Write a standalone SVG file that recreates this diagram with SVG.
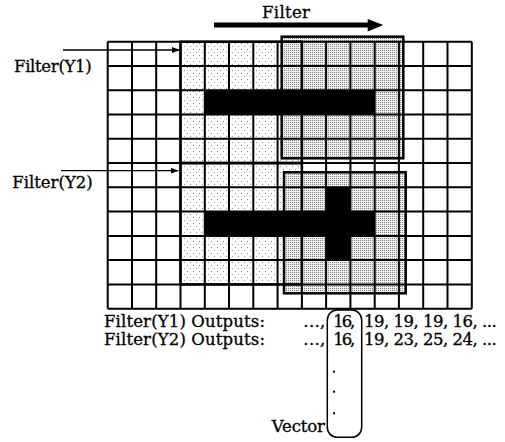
<svg xmlns="http://www.w3.org/2000/svg" width="505" height="442" viewBox="0 0 505 442">
<style>
text{font-family:"DejaVu Serif","Liberation Serif",serif;font-size:16.5px;fill:#000;stroke:#000;stroke-width:0.3}
.grid{stroke:#000;stroke-width:2;fill:none}
.box{stroke:#000;stroke-width:2.5;fill:none}
.thin{stroke:#000;stroke-width:1.3;fill:none}
</style>
<defs>
<pattern id="sparse" width="6" height="6" patternUnits="userSpaceOnUse"><rect width="6" height="6" fill="#fff"/><rect x="1" y="1" width="1" height="1" fill="#888"/><rect x="4" y="4" width="1" height="1" fill="#999"/></pattern>
<pattern id="dense" width="2" height="2" patternUnits="userSpaceOnUse"><rect width="2" height="2" fill="#f0f0f0"/><rect width="1" height="1" fill="#808080"/></pattern>
<marker id="ah" markerWidth="8" markerHeight="6" refX="8" refY="3" orient="auto" markerUnits="userSpaceOnUse"><path d="M0,0 L8,3 L0,6 Z" fill="#000"/></marker>
</defs>
<rect width="505" height="442" fill="#fff"/>
<g id="image-grid">
<rect x="107.7" y="41.7" width="364" height="267" fill="#fff"/>
<rect x="180.5" y="41.7" width="121.4" height="121.35" fill="url(#sparse)"/>
<rect x="180.5" y="163.05" width="121.4" height="121.35" fill="url(#sparse)"/>
</g>
<g id="filter-y1">
<rect x="281.7" y="36.7" width="121.6" height="121.6" fill="url(#dense)"/>
</g>
<g id="filter-y2">
<rect x="284" y="172.3" width="121.7" height="121" fill="url(#dense)"/>
</g>
<g id="shapes">
<rect x="204.8" y="90.2" width="169.9" height="24.3" fill="#000"/>
<rect x="204.8" y="211.6" width="169.9" height="24.3" fill="#000"/>
<rect x="326.1" y="187.3" width="24.3" height="72.8" fill="#000"/>
</g>
<path class="grid" d="M107.7,41.7V308.7M132,41.7V308.7M156.2,41.7V308.7M180.5,41.7V308.7M204.8,41.7V308.7M229,41.7V308.7M253.3,41.7V308.7M277.6,41.7V308.7M301.9,41.7V308.7M326.1,41.7V308.7M350.4,41.7V308.7M374.7,41.7V308.7M398.9,41.7V308.7M423.2,41.7V308.7M447.5,41.7V308.7M471.8,41.7V308.7M107.7,41.7H471.8M107.7,66H471.8M107.7,90.2H471.8M107.7,114.5H471.8M107.7,138.8H471.8M107.7,163H471.8M107.7,187.3H471.8M107.7,211.6H471.8M107.7,235.9H471.8M107.7,260.1H471.8M107.7,284.4H471.8M107.7,308.7H471.8"/>
<g id="outlines">
<rect class="box" x="180.5" y="41.7" width="121.4" height="121.35"/>
<rect class="box" x="180.5" y="163.05" width="121.4" height="121.35"/>
<rect class="box" x="281.7" y="36.7" width="121.6" height="121.6"/>
<rect class="box" x="284" y="172.3" width="121.7" height="121"/>
</g>
<g id="connectors">
<line class="thin" x1="63" y1="50" x2="180" y2="50" marker-end="url(#ah)"/>
<line class="thin" x1="61" y1="170.7" x2="178.5" y2="170.7" marker-end="url(#ah)"/>
<line x1="214" y1="25" x2="369" y2="25" stroke="#000" stroke-width="5"/>
<polygon points="367.7,19 383.3,25 367.7,31.5" fill="#000"/>
</g>
<g id="labels">
<text x="262" y="18" textLength="48">Filter</text>
<text x="14" y="71.5" textLength="77.7">Filter(Y1)</text>
<text x="12.3" y="188.3" textLength="80.4">Filter(Y2)</text>
<text x="104" y="326.5" textLength="161">Filter(Y1) Outputs:</text>
<text x="104" y="344.5" textLength="161">Filter(Y2) Outputs:</text>
<text x="303.3" y="326.5" textLength="22">...,</text>
<text x="333.3" y="326.5" textLength="22">16,</text>
<text x="364" y="326.5" textLength="132.7">19, 19, 19, 16, ...</text>
<text x="303.3" y="344.5" textLength="22">...,</text>
<text x="333.3" y="344.5" textLength="22">16,</text>
<text x="364" y="344.5" textLength="132.7">19, 23, 25, 24, ...</text>
<text x="271.7" y="431.5" textLength="53.3">Vector</text>
</g>
<g id="vector">
<rect x="327.3" y="310" width="34.4" height="127.3" rx="10" ry="10" fill="none" stroke="#000" stroke-width="1.5"/>
<rect x="333" y="370.7" width="2" height="2" fill="#000"/>
<rect x="333" y="390.7" width="2" height="2" fill="#000"/>
<rect x="333" y="412.3" width="2" height="2" fill="#000"/>
</g>
</svg>
